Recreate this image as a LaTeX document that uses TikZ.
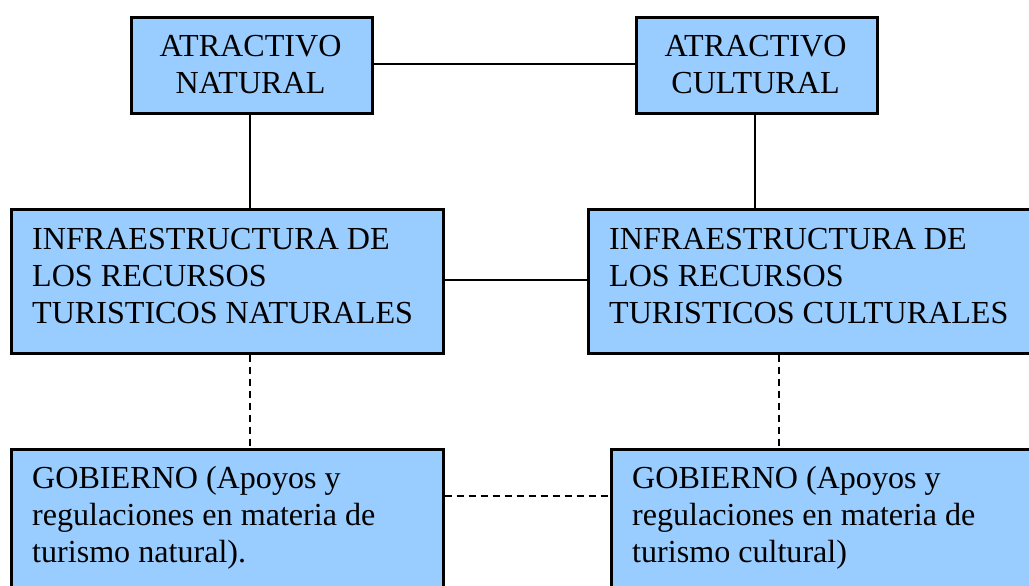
\documentclass[tikz,border=0pt]{standalone}
\usepackage{fontspec}
\setmainfont{Liberation Serif}
\definecolor{boxblue}{HTML}{99CCFF}
\tikzset{
  box/.style={draw=black, line width=2.6pt, fill=boxblue, rectangle, inner sep=0pt, anchor=north west},
  txt/.style={inner sep=0pt, font=\fontsize{32.1pt}{37pt}\selectfont},
  link/.style={line width=1.8pt, draw=black},
  dlink/.style={line width=1.8pt, draw=black, dash pattern=on 7pt off 5pt}
}
\begin{document}
\begin{tikzpicture}[x=1pt,y=1pt]
\useasboundingbox (0,0) rectangle (1029,-586);
\clip (0,0) rectangle (1029,-586);
% boxes
\node[box, minimum width=241pt, minimum height=96pt] (AN) at (130,-16) {};
\node[box, minimum width=241pt, minimum height=96pt] (AC) at (635,-16) {};
\node[box, minimum width=432pt, minimum height=144pt] (IN) at (10,-208) {};
\node[box, minimum width=470pt, minimum height=144pt] (IC) at (587,-208) {};
\node[box, minimum width=432pt, minimum height=160pt] (GN) at (10,-448) {};
\node[box, minimum width=450pt, minimum height=160pt] (GC) at (610,-448) {};
% texts (base anchor = baseline of last line)
\node[txt, align=center, anchor=base] (ANt) at (250.5,-94) {ATRACTIVO\\NATURAL};
\node[txt, align=center, anchor=base] (ACt) at (755.5,-94) {ATRACTIVO\\CULTURAL};
\node[txt, align=left, anchor=base west] (INt) at (32,-323) {INFRAESTRUCTURA DE\\LOS RECURSOS\\TURISTICOS NATURALES};
\node[txt, align=left, anchor=base west] (ICt) at (609,-323) {INFRAESTRUCTURA DE\\LOS RECURSOS\\TURISTICOS CULTURALES};
\node[txt, align=left, anchor=base west] (GNt) at (32,-562) {GOBIERNO (Apoyos y\\regulaciones en materia de\\turismo natural).};
\node[txt, align=left, anchor=base west] (GCt) at (632,-562) {GOBIERNO (Apoyos y\\regulaciones en materia de\\turismo cultural)};
% connectors
\draw[link] (AN.east |- 0,-64) -- (AC.west |- 0,-64);
\draw[link] (AN.south -| 250,0) -- (IN.north -| 250,0);
\draw[link] (AC.south -| 755,0) -- (IC.north -| 755,0);
\draw[link] (IN.east |- 0,-280) -- (IC.west |- 0,-280);
\draw[dlink] (IN.south -| 250,0) -- (GN.north -| 250,0);
\draw[dlink] (IC.south -| 779,0) -- (GC.north -| 779,0);
\draw[dlink] (GN.east |- 0,-496) -- (GC.west |- 0,-496);
\end{tikzpicture}
\end{document}
